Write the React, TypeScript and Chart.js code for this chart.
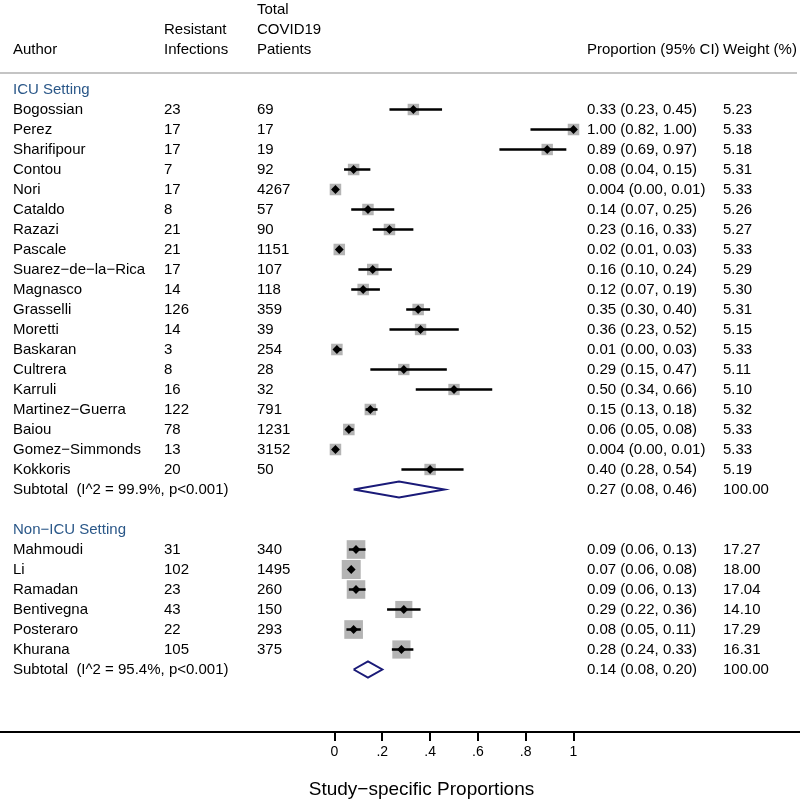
import React, { useEffect, useRef } from 'react';
import { Chart, registerables } from 'chart.js';

Chart.register(...registerables);

// ---------- DATA ----------
const ICU_AUTHORS = [
  'Bogossian', 'Perez', 'Sharifipour', 'Contou', 'Nori', 'Cataldo', 'Razazi', 'Pascale',
  'Suarez\u2212de\u2212la\u2212Rica', 'Magnasco', 'Grasselli', 'Moretti', 'Baskaran', 'Cultrera',
  'Karruli', 'Martinez\u2212Guerra', 'Baiou', 'Gomez\u2212Simmonds', 'Kokkoris',
];
const ICU_EVENTS = [23, 17, 17, 7, 17, 8, 21, 21, 17, 14, 126, 14, 3, 8, 16, 122, 78, 13, 20];
const ICU_TOTALS = [69, 17, 19, 92, 4267, 57, 90, 1151, 107, 118, 359, 39, 254, 28, 32, 791, 1231, 3152, 50];
const ICU_EST = [0.33, 1.0, 0.89, 0.08, 0.004, 0.14, 0.23, 0.02, 0.16, 0.12, 0.35, 0.36, 0.01, 0.29, 0.5, 0.15, 0.06, 0.004, 0.4];
const ICU_LO = [0.23, 0.82, 0.69, 0.04, 0.0, 0.07, 0.16, 0.01, 0.1, 0.07, 0.3, 0.23, 0.0, 0.15, 0.34, 0.13, 0.05, 0.0, 0.28];
const ICU_HI = [0.45, 1.0, 0.97, 0.15, 0.01, 0.25, 0.33, 0.03, 0.24, 0.19, 0.4, 0.52, 0.03, 0.47, 0.66, 0.18, 0.08, 0.01, 0.54];
const ICU_WEIGHTS = [5.23, 5.33, 5.18, 5.31, 5.33, 5.26, 5.27, 5.33, 5.29, 5.3, 5.31, 5.15, 5.33, 5.11, 5.1, 5.32, 5.33, 5.33, 5.19];

const NON_AUTHORS = ['Mahmoudi', 'Li', 'Ramadan', 'Bentivegna', 'Posteraro', 'Khurana'];
const NON_EVENTS = [31, 102, 23, 43, 22, 105];
const NON_TOTALS = [340, 1495, 260, 150, 293, 375];
const NON_EST = [0.09, 0.07, 0.09, 0.29, 0.08, 0.28];
const NON_LO = [0.06, 0.06, 0.06, 0.22, 0.05, 0.24];
const NON_HI = [0.13, 0.08, 0.13, 0.36, 0.11, 0.33];
const NON_WEIGHTS = [17.27, 18.0, 17.04, 14.1, 17.29, 16.31];

const GROUP_NAMES = ['ICU Setting', 'Non\u2212ICU Setting'];
const SUB_EST = [0.27, 0.14];
const SUB_LO = [0.08, 0.08];
const SUB_HI = [0.46, 0.2];
const SUB_I2 = ['99.9%', '95.4%'];
const SUB_P = ['p<0.001', 'p<0.001'];
const SUB_WEIGHT = [100, 100];

const TICK_VALUES = [0, 0.2, 0.4, 0.6, 0.8, 1];
const TICK_LABELS = ['0', '.2', '.4', '.6', '.8', '1'];
const X_TITLE = 'Study\u2212specific Proportions';

// ---------- LAYOUT ----------
const W = 800;
const H = 804;
const AXIS_H = 72;
const PX_PER_UNIT = 239;
const ZERO_PX = 334.5;
const ROW_PX = 20;
const FIRST_ROW_PX = 109.5;
const FONT = '"Liberation Sans", Arial, Helvetica, sans-serif';
const HEAD_BLUE = '#2a5788';
const NAVY = '#1a1a78';
const BOX_GRAY = '#b4b4b4';

const fmt = (v: number) => (v > 0 && v < 0.005 ? v.toFixed(3) : v.toFixed(2));

type Row = {
  kind: 'head' | 'study' | 'sub';
  row: number;
  label: string;
  events?: number;
  total?: number;
  est?: number;
  lo?: number;
  hi?: number;
  weight?: number;
};

function buildRows(): Row[] {
  const rows: Row[] = [];
  const groups = [
    { a: ICU_AUTHORS, e: ICU_EVENTS, t: ICU_TOTALS, est: ICU_EST, lo: ICU_LO, hi: ICU_HI, w: ICU_WEIGHTS },
    { a: NON_AUTHORS, e: NON_EVENTS, t: NON_TOTALS, est: NON_EST, lo: NON_LO, hi: NON_HI, w: NON_WEIGHTS },
  ];
  let r = -1;
  groups.forEach((g, gi) => {
    rows.push({ kind: 'head', row: r, label: GROUP_NAMES[gi] });
    r++;
    g.a.forEach((name, i) => {
      rows.push({ kind: 'study', row: r, label: name, events: g.e[i], total: g.t[i], est: g.est[i], lo: g.lo[i], hi: g.hi[i], weight: g.w[i] });
      r++;
    });
    rows.push({
      kind: 'sub', row: r,
      label: `Subtotal  (I^2 = ${SUB_I2[gi]}, ${SUB_P[gi]})`,
      est: SUB_EST[gi], lo: SUB_LO[gi], hi: SUB_HI[gi], weight: SUB_WEIGHT[gi],
    });
    r += 2;
  });
  return rows;
}

export default function App() {
  const ref = useRef<HTMLCanvasElement | null>(null);

  useEffect(() => {
    if (!ref.current) return;
    const rows = buildRows();
    const studies = rows.filter((r) => r.kind === 'study');
    const subs = rows.filter((r) => r.kind === 'sub');

    const boxData = studies.map((s) => ({ x: s.est as number, y: s.row }));
    const boxRadius = studies.map((s) => (2.62 + 3.86 * Math.sqrt(s.weight as number)) / Math.SQRT2);
    const ciData: any[] = [];
    studies.forEach((s) => {
      ciData.push({ x: s.lo, y: s.row }, { x: s.hi, y: s.row }, { x: null, y: null });
    });
    const diaData = studies.map((s) => ({ x: s.est as number, y: s.row }));
    const subData: any[] = [];
    subs.forEach((s) => {
      const h = 0.4;
      subData.push(
        { x: s.lo, y: s.row },
        { x: s.est, y: s.row - h },
        { x: s.hi, y: s.row },
        { x: s.est, y: s.row + h },
        { x: s.lo, y: s.row },
        { x: null, y: null },
      );
    });

    const textPlugin = {
      id: 'forestText',
      afterDraw(chart: any) {
        const { ctx } = chart;
        const y = chart.scales.y;
        const py = (r: number) => y.getPixelForValue(r);
        ctx.save();
        ctx.textBaseline = 'middle';
        ctx.textAlign = 'left';
        ctx.font = `15px ${FONT}`;
        ctx.fillStyle = '#000';
        const colName = 13, colEv = 164, colTot = 257, colProp = 587, colW = 723;
        ctx.fillText('Author', colName, py(-3));
        ctx.fillText('Resistant', colEv, py(-4));
        ctx.fillText('Infections', colEv, py(-3));
        ctx.fillText('Total', colTot, py(-5));
        ctx.fillText('COVID19', colTot, py(-4));
        ctx.fillText('Patients', colTot, py(-3));
        ctx.fillText('Proportion (95% CI)', colProp, py(-3));
        ctx.fillText('Weight (%)', colW, py(-3));
        ctx.strokeStyle = '#c4c4c4';
        ctx.lineWidth = 2;
        ctx.beginPath();
        ctx.moveTo(0, py(-1.825));
        ctx.lineTo(797, py(-1.825));
        ctx.stroke();
        rows.forEach((r) => {
          const yy = py(r.row);
          if (r.kind === 'head') {
            ctx.fillStyle = HEAD_BLUE;
            ctx.fillText(r.label, colName, yy);
            return;
          }
          ctx.fillStyle = '#000';
          ctx.fillText(r.label, colName, yy);
          if (r.kind === 'study') {
            ctx.fillText(String(r.events), colEv, yy);
            ctx.fillText(String(r.total), colTot, yy);
          }
          ctx.fillText(`${fmt(r.est as number)} (${(r.lo as number).toFixed(2)}, ${(r.hi as number).toFixed(2)})`, colProp, yy);
          ctx.fillText((r.weight as number).toFixed(2), colW, yy);
        });
        // x-axis title
        ctx.fillStyle = '#000';
        ctx.font = `19px ${FONT}`;
        ctx.textAlign = 'center';
        ctx.fillText(X_TITLE, 421.5, 790);
        ctx.restore();
      },
    };

    const chartH = H - AXIS_H;
    const yMin = -FIRST_ROW_PX / ROW_PX;
    const yMax = yMin + chartH / ROW_PX;

    const chart = new Chart(ref.current, {
      type: 'scatter',
      data: {
        datasets: [
          {
            label: 'boxes',
            data: boxData,
            pointStyle: 'rect',
            pointRadius: boxRadius,
            backgroundColor: BOX_GRAY,
            borderWidth: 0,
            order: 3,
          },
          {
            label: 'ci',
            data: ciData,
            showLine: true,
            spanGaps: false,
            borderColor: '#000',
            borderWidth: 2.5,
            pointRadius: 0,
            order: 2,
          },
          {
            label: 'est',
            data: diaData,
            pointStyle: 'rectRot',
            pointRadius: 4.4,
            backgroundColor: '#000',
            borderWidth: 0,
            order: 1,
          },
          {
            label: 'subtotal',
            data: subData,
            showLine: true,
            spanGaps: false,
            borderColor: NAVY,
            borderWidth: 2,
            pointRadius: 0,
            fill: false,
            order: 0,
          },
        ] as any,
      },
      options: {
        responsive: false,
        maintainAspectRatio: false,
        devicePixelRatio: 1,
        animation: false,
        layout: { padding: 0, autoPadding: false },
        plugins: { legend: { display: false }, tooltip: { enabled: false }, title: { display: false } },
        scales: {
          x: {
            type: 'linear',
            min: -ZERO_PX / PX_PER_UNIT,
            max: (W - ZERO_PX) / PX_PER_UNIT,
            afterBuildTicks: (scale: any) => {
              scale.ticks = TICK_VALUES.map((v) => ({ value: v }));
            },
            afterFit: (scale: any) => {
              scale.height = AXIS_H;
            },
            ticks: {
              color: '#000',
              font: { family: FONT, size: 14 },
              padding: 3,
              maxRotation: 0,
              autoSkip: false,
              callback: (_v: any, idx: number) => TICK_LABELS[idx],
            },
            grid: {
              drawOnChartArea: false,
              drawTicks: true,
              tickLength: 9,
              color: '#000',
              lineWidth: 2,
            },
            border: { display: true, color: '#000', width: 2 },
            title: { display: false },
          },
          y: {
            type: 'linear',
            display: false,
            reverse: true,
            min: yMin,
            max: yMax,
          },
        },
      },
      plugins: [textPlugin],
    } as any);
    return () => chart.destroy();
  }, []);

  return (
    <div style={{ position: 'absolute', left: 0, top: 0, width: W, height: H, background: '#fff' }}>
      <canvas ref={ref} width={W} height={H} style={{ display: 'block' }} />
    </div>
  );
}
